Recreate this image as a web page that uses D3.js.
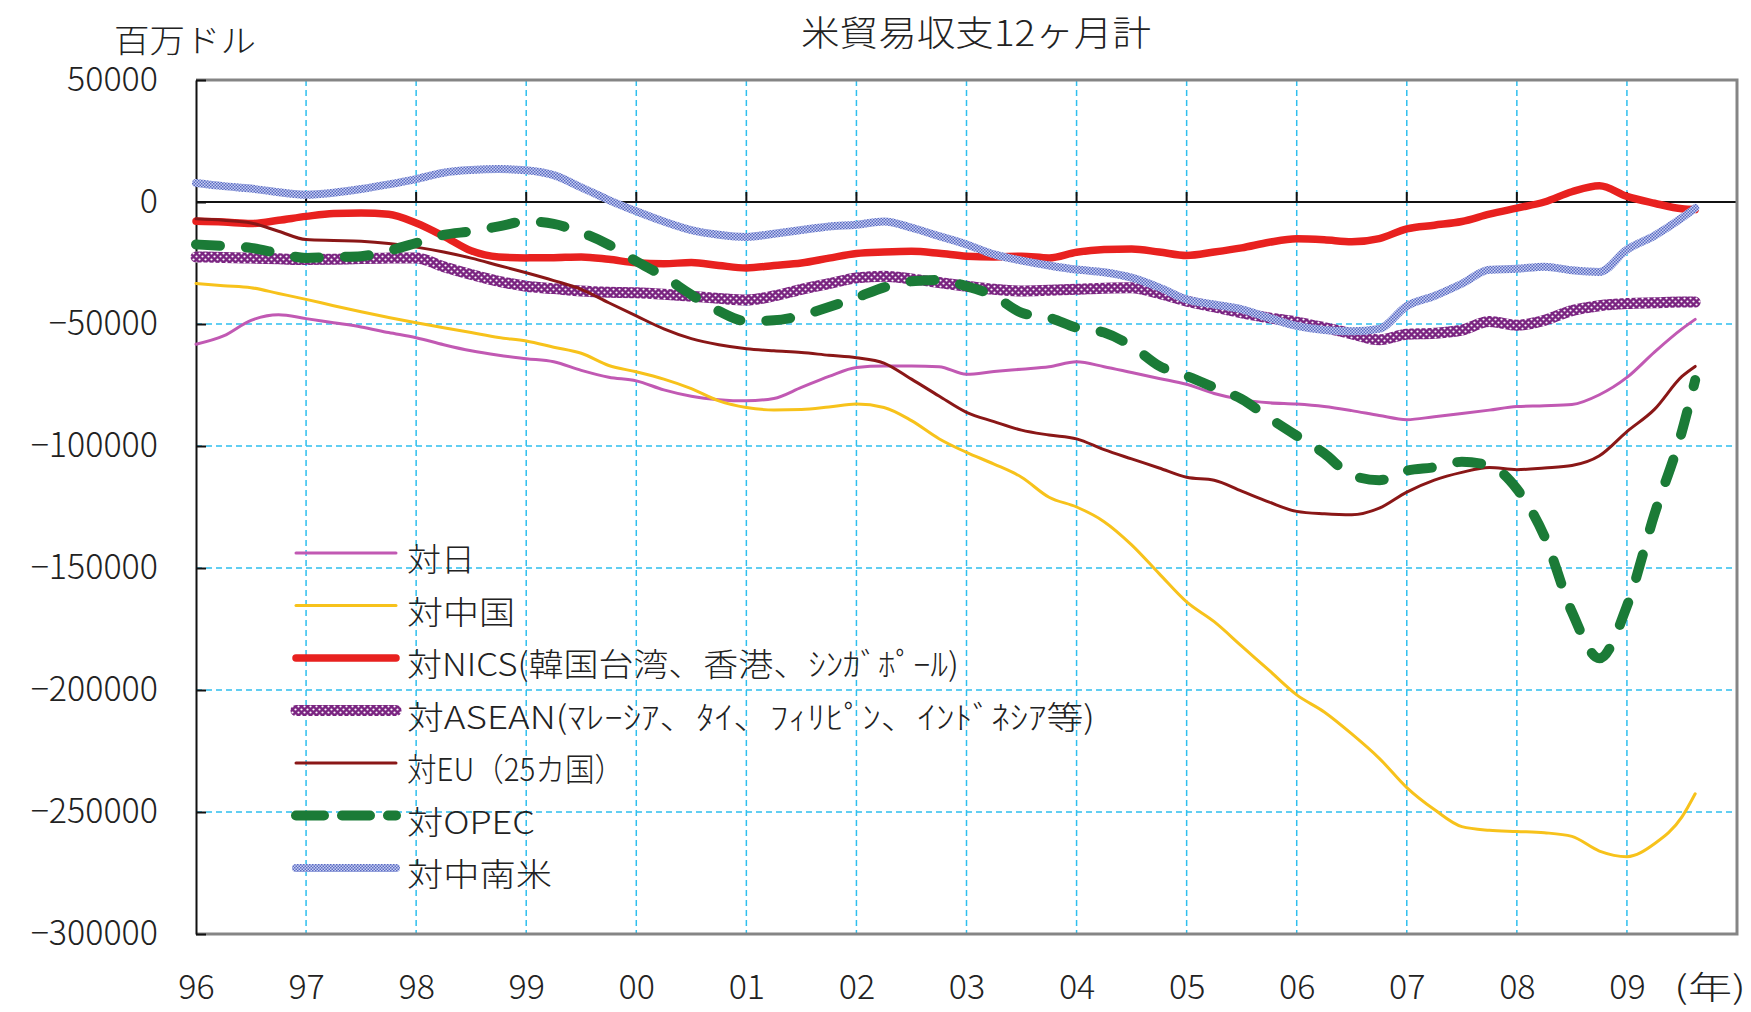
<!DOCTYPE html>
<html>
<head>
<meta charset="utf-8">
<script src="https://cdn.jsdelivr.net/npm/d3@7"></script>
<style>
  body { margin: 0; background: #fff; }
  svg text { font-family: "Noto Sans CJK JP", "Noto Sans", sans-serif; font-weight: 300; fill: #222; }
</style>
</head>
<body>
<div id="chart"></div>
<script>
// quarterly readings, last point is the latest month (around Aug 2009)
var years = [1996, 1996.25, 1996.5, 1996.75, 1997, 1997.25, 1997.5, 1997.75,
             1998, 1998.25, 1998.5, 1998.75, 1999, 1999.25, 1999.5, 1999.75,
             2000, 2000.25, 2000.5, 2000.75, 2001, 2001.25, 2001.5, 2001.75,
             2002, 2002.25, 2002.5, 2002.75, 2003, 2003.25, 2003.5, 2003.75,
             2004, 2004.25, 2004.5, 2004.75, 2005, 2005.25, 2005.5, 2005.75,
             2006, 2006.25, 2006.5, 2006.75, 2007, 2007.25, 2007.5, 2007.75,
             2008, 2008.25, 2008.5, 2008.75, 2009, 2009.25, 2009.5, 2009.62];

// 百万ドル
var japan = [-58300, -54900, -48500, -46200, -47800, -49500, -51200, -53500,
             -55600, -58500, -61000, -62800, -64200, -65500, -69000, -71800,
             -73300, -77000, -79600, -81000, -81500, -80500, -76000, -71500,
             -67800, -67200, -67200, -67500, -70600, -69500, -68500, -67500,
             -65500, -67500, -69900, -72300, -74700, -78500, -81000, -82300,
             -82800, -83800, -85500, -87500, -89200, -88000, -86700, -85300,
             -83800, -83500, -83000, -79000, -71900, -61500, -52000, -48100];
var china = [-33400, -34300, -35100, -37500, -39900, -42500, -45000, -47300,
             -49500, -51500, -53500, -55500, -57000, -59500, -62000, -67000,
             -69600, -72600, -76500, -81500, -84200, -85200, -85000, -84000,
             -82800, -84200, -89600, -97000, -102600, -107400, -112800, -121000,
             -125000, -131000, -140500, -152300, -163900, -172000, -182000, -192000,
             -202000, -209000, -218000, -228000, -240000, -249000, -256000, -257500,
             -258000, -258500, -260000, -266000, -268300, -263000, -252000, -242500];
var nics = [-7900, -8200, -8800, -7500, -5900, -4700, -4500, -5000,
            -8600, -14000, -20000, -22500, -22900, -22800, -22500, -23500,
            -24900, -25300, -24800, -26000, -27000, -26000, -25000, -23000,
            -21100, -20500, -20200, -21000, -22200, -22500, -22200, -22900,
            -20600, -19500, -19300, -20500, -21900, -20500, -18800, -16500,
            -15100, -15500, -16300, -15000, -11000, -9500, -8000, -5000,
            -2500, 0, 4200, 6700, 2300, -500, -2800, -3100];
var asean = [-22500, -22700, -23000, -23300, -23600, -23500, -23200, -23000,
             -22900, -26500, -29700, -32500, -34500, -35500, -36500, -37000,
             -37200, -37800, -38600, -39500, -40200, -38500, -35800, -33500,
             -31100, -30400, -31500, -33000, -34500, -35800, -36500, -36200,
             -35800, -35300, -35100, -37500, -40600, -43000, -45400, -47500,
             -49200, -51500, -54000, -56500, -54200, -53800, -52500, -49000,
             -50500, -48500, -44500, -42500, -41600, -41300, -41000, -41000];
var eu = [-6900, -7500, -8600, -12000, -15400, -15800, -16100, -17000,
          -18500, -20500, -23000, -26000, -29000, -32200, -35800, -41300,
          -46700, -52000, -56000, -58500, -60100, -61000, -61700, -62800,
          -63800, -66000, -72600, -79500, -86200, -90000, -93500, -95500,
          -97100, -101500, -105300, -109000, -112800, -114000, -118500, -123000,
          -126800, -127800, -128200, -125500, -118900, -114000, -110800, -108800,
          -109700, -109000, -108000, -104000, -94100, -85000, -71500, -67400];
var opec = [-17400, -18000, -18800, -21000, -22900, -22500, -22200, -20000,
            -16800, -13500, -12000, -10000, -7900, -9000, -12500, -17500,
            -24300, -30500, -38000, -44700, -48800, -48500, -46500, -43000,
            -39200, -35000, -32500, -32000, -34500, -38500, -45400, -47400,
            -51500, -53500, -59000, -67200, -71300, -76000, -80800, -88500,
            -95800, -103000, -112000, -114000, -110100, -108700, -106500, -108000,
            -117600, -137000, -168000, -187000, -165600, -128000, -94000, -73000];
var latam = [7800, 6500, 5500, 4000, 3000, 3800, 5300, 7200,
             9400, 12000, 13100, 13500, 13000, 11000, 6000, 800,
             -3800, -8000, -11500, -13400, -14300, -13000, -11500, -10000,
             -9300, -8000, -10500, -14000, -17400, -21500, -24000, -26000,
             -27700, -28800, -31000, -35000, -39900, -42000, -44000, -47500,
             -50800, -52500, -53000, -52000, -42600, -38500, -33500, -27800,
             -27400, -26500, -28000, -28700, -19500, -13800, -6500, -2500];

var seriesNames = ['対日', '対中国', '対NICS(韓国台湾、香港、ｼﾝｶﾞﾎﾟｰﾙ)',
                   '対ASEAN(ﾏﾚｰｼｱ、ﾀｲ、ﾌｨﾘﾋﾟﾝ、ｲﾝﾄﾞﾈｼｱ等)', '対EU（25カ国）', '対OPEC', '対中南米'];
var seriesValues = [japan, china, nics, asean, eu, opec, latam];

var yTicks = [50000, 0, -50000, -100000, -150000, -200000, -250000, -300000];
var yTickLabels = ['50000', '0', '−50000', '−100000', '−150000', '−200000', '−250000', '−300000'];
var xTicks = [1996, 1997, 1998, 1999, 2000, 2001, 2002, 2003, 2004, 2005, 2006, 2007, 2008, 2009];
var xTickLabels = ['96', '97', '98', '99', '00', '01', '02', '03', '04', '05', '06', '07', '08', '09'];

(function(){
  var width = 1751, height = 1012;
  var plotLeft = 196, plotRight = 1737, plotTop = 80, plotBottom = 934;

  var x = d3.scaleLinear().domain([1996, 2010]).range([plotLeft, plotRight]);
  var y = d3.scaleLinear().domain([-300000, 50000]).range([plotBottom, plotTop]);

  var svg = d3.select('#chart').append('svg')
              .attr('width', width)
              .attr('height', height);

  var defs = svg.append('defs');

  // cross hatch used by the latin america line
  var hatch = defs.append('pattern').attr('id', 'hatchLatam')
                  .attr('patternUnits', 'userSpaceOnUse')
                  .attr('width', 3).attr('height', 3);
  hatch.append('rect').attr('width', 3).attr('height', 3).attr('fill', '#c8cff2');
  hatch.append('rect').attr('width', 1.5).attr('height', 1.5).attr('fill', '#5a6bc2');
  hatch.append('rect').attr('x', 1.5).attr('y', 1.5).attr('width', 1.5).attr('height', 1.5).attr('fill', '#5a6bc2');

  // purple with white dots for ASEAN
  var dots = defs.append('pattern').attr('id', 'dotsAsean')
                 .attr('patternUnits', 'userSpaceOnUse')
                 .attr('width', 6).attr('height', 6);
  dots.append('rect').attr('width', 6).attr('height', 6).attr('fill', '#7a2481');
  dots.append('circle').attr('cx', 1.5).attr('cy', 1.5).attr('r', 1.1).attr('fill', '#fff');
  dots.append('circle').attr('cx', 4.5).attr('cy', 4.5).attr('r', 1.1).attr('fill', '#fff');

  var styles = [
    { stroke: '#c159b3', width: 3 },
    { stroke: '#f7c21b', width: 3 },
    { stroke: '#e8211f', width: 7.5 },
    { stroke: 'url(#dotsAsean)', width: 11 },
    { stroke: '#8a1717', width: 3 },
    { stroke: '#1b7b37', width: 10, dash: '24 26' },
    { stroke: 'url(#hatchLatam)', width: 8 }
  ];

  // grid
  var gridColor = '#2fbfee';
  svg.append('g').selectAll('line').data(yTicks.filter(function(d){ return d < 50000 && d > -300000 && d !== 0; }))
    .enter().append('line')
    .attr('x1', plotLeft).attr('x2', plotRight)
    .attr('y1', function(d){ return y(d); }).attr('y2', function(d){ return y(d); })
    .attr('stroke', gridColor).attr('stroke-width', 1.5).attr('stroke-dasharray', '6 4');

  svg.append('g').selectAll('line').data(xTicks.slice(1))
    .enter().append('line')
    .attr('x1', function(d){ return x(d); }).attr('x2', function(d){ return x(d); })
    .attr('y1', plotTop).attr('y2', plotBottom)
    .attr('stroke', gridColor).attr('stroke-width', 1.5).attr('stroke-dasharray', '6 4');

  // zero line with small year ticks
  svg.append('line')
    .attr('x1', plotLeft).attr('x2', plotRight)
    .attr('y1', y(0)).attr('y2', y(0))
    .attr('stroke', '#111').attr('stroke-width', 2);
  svg.append('g').selectAll('line').data(xTicks.slice(1))
    .enter().append('line')
    .attr('x1', function(d){ return x(d); }).attr('x2', function(d){ return x(d); })
    .attr('y1', y(0)).attr('y2', y(0) - 10)
    .attr('stroke', '#111').attr('stroke-width', 2);

  // frame
  svg.append('path')
    .attr('d', 'M' + plotLeft + ',' + plotTop + 'H' + plotRight + 'V' + plotBottom + 'H' + plotLeft)
    .attr('fill', 'none').attr('stroke', '#858585').attr('stroke-width', 3);

  // y axis
  var yAxis = d3.axisLeft(y)
                .tickValues(yTicks)
                .tickFormat(function(d, i){ return yTickLabels[i]; })
                .tickSizeInner(-10).tickSizeOuter(0).tickPadding(38);
  var gy = svg.append('g').attr('transform', 'translate(' + plotLeft + ',0)').call(yAxis);
  gy.select('.domain').attr('stroke', '#111').attr('stroke-width', 2);
  gy.selectAll('.tick line').attr('stroke', '#111').attr('stroke-width', 2);
  gy.selectAll('.tick text')
    .style('font-family', '"Noto Sans CJK JP", sans-serif')
    .style('font-weight', '300')
    .style('font-size', '34px').attr('fill', '#222');

  // x axis labels
  var xAxis = d3.axisBottom(x)
                .tickValues(xTicks)
                .tickFormat(function(d, i){ return xTickLabels[i]; })
                .tickSize(0).tickPadding(41);
  var gx = svg.append('g').attr('transform', 'translate(0,' + plotBottom + ')').call(xAxis);
  gx.select('.domain').remove();
  gx.selectAll('.tick text')
    .style('font-family', '"Noto Sans CJK JP", sans-serif')
    .style('font-weight', '300')
    .style('font-size', '34px').attr('fill', '#222');

  svg.append('text').attr('x', 1674).attr('y', 999)
    .attr('textLength', 72).attr('lengthAdjust', 'spacingAndGlyphs')
    .style('font-size', '32px').text('(年)');

  // series
  var line = d3.line()
               .x(function(d){ return x(d[0]); })
               .y(function(d){ return y(d[1]); })
               .curve(d3.curveMonotoneX);

  seriesValues.forEach(function(vals, i){
    var pts = years.map(function(t, j){ return [t, vals[j]]; });
    var st = styles[i];
    svg.append('path')
      .attr('d', line(pts))
      .attr('fill', 'none')
      .attr('stroke', st.stroke)
      .attr('stroke-width', st.width)
      .attr('stroke-linejoin', 'round')
      .attr('stroke-linecap', 'round')
      .attr('stroke-dasharray', st.dash || null);
  });

  // legend
  var legendWidths = [68, 108, 552, 688, 217, 128, 145];
  var leg = svg.append('g');
  seriesNames.forEach(function(name, i){
    var ly = 553 + i * 52.5;
    var st = styles[i];
    leg.append('line')
      .attr('x1', 296).attr('x2', 396)
      .attr('y1', ly).attr('y2', ly)
      .attr('stroke', st.stroke).attr('stroke-width', st.width)
      .attr('stroke-linecap', 'round')
      .attr('stroke-dasharray', st.dash ? '28 18' : null);
    leg.append('text')
      .attr('x', 407).attr('y', ly + 18)
      .attr('textLength', legendWidths[i])
      .attr('lengthAdjust', 'spacingAndGlyphs')
      .style('font-size', '32px')
      .text(name);
  });

  // title and unit
  svg.append('text').attr('x', 801).attr('y', 46)
    .attr('textLength', 350).attr('lengthAdjust', 'spacingAndGlyphs')
    .style('font-size', '35px').text('米貿易収支12ヶ月計');
  svg.append('text').attr('x', 114).attr('y', 52)
    .attr('textLength', 142).attr('lengthAdjust', 'spacingAndGlyphs')
    .style('font-size', '32px').text('百万ドル');
})();
</script>
</body>
</html>
